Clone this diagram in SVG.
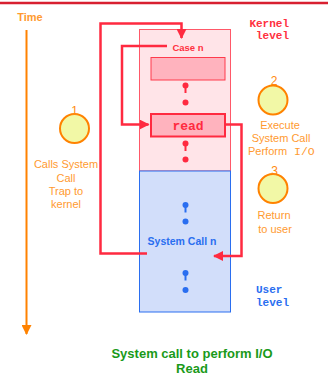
<svg xmlns="http://www.w3.org/2000/svg" width="328" height="376" viewBox="0 0 328 376">
<style>
.sans{font-family:"Liberation Sans",Arial,sans-serif}
.mono{font-family:"Liberation Mono","Courier New",monospace}
.or{fill:#ff9a30;font-size:11px}
.num{fill:#ff8a10;font-size:12px;text-anchor:middle}
.circ{fill:#f2f8a6;stroke:#ff8200;stroke-width:2}
.conn{fill:none;stroke:#ff2a40;stroke-width:2.5}
.rdot{fill:#ff2a40}
.rstem{stroke:#ff2a40;stroke-width:2}
.bdot{fill:#2a6ef0}
.bstem{stroke:#2a6ef0;stroke-width:2}
</style>
<defs>
<marker id="ah" viewBox="0 0 10 10" refX="9" refY="5" markerWidth="4" markerHeight="4" orient="auto" markerUnits="strokeWidth">
<path d="M0,0 L10,5 L0,10 z" fill="#ff2a40"/>
</marker>
<marker id="oah" viewBox="0 0 10 10" refX="9" refY="5" markerWidth="5" markerHeight="5" orient="auto" markerUnits="strokeWidth">
<path d="M0,0 L10,5 L0,10 z" fill="#ff8200"/>
</marker>
</defs>
<rect x="0" y="0" width="328" height="376" fill="#ffffff"/>
<line x1="0" y1="3" x2="328" y2="3" stroke="#d82030" stroke-width="2.5"/>

<g id="time">
<text x="30" y="20.5" class="sans" font-size="11" font-weight="bold" fill="#ff9a30" text-anchor="middle">Time</text>
<line x1="26.5" y1="30" x2="26.5" y2="334" stroke="#ff8200" stroke-width="2" marker-end="url(#oah)"/>
</g>

<g id="kernel">
<rect x="139.5" y="29.5" width="91" height="141.5" fill="#ffe4e8" stroke="#ff5868" stroke-width="1"/>
<text x="289" y="26.5" class="mono" font-size="11" font-weight="bold" fill="#ff3040" text-anchor="end">Kernel</text>
<text x="289" y="39" class="mono" font-size="11" font-weight="bold" fill="#ff3040" text-anchor="end">level</text>
</g>

<g id="user">
<rect x="139.5" y="171" width="91" height="141" fill="#d2defa" stroke="#2a6ef0" stroke-width="1"/>
<text x="256" y="292.5" class="mono" font-size="11" font-weight="bold" fill="#2a6ef0">User</text>
<text x="256" y="305.5" class="mono" font-size="11" font-weight="bold" fill="#2a6ef0">level</text>
</g>

<g id="case-n">
<text x="188" y="51" class="sans" font-size="9.5" font-weight="bold" fill="#ff3040" text-anchor="middle">Case n</text>
<rect x="151" y="57.5" width="74" height="22.5" fill="#ffb3be" stroke="#ff3a4c" stroke-width="1"/>
</g>

<g id="dots-k1">
<circle cx="185.5" cy="85.5" r="3" class="rdot"/><line x1="185.5" y1="86" x2="185.5" y2="93" class="rstem"/>
<circle cx="185.5" cy="102.5" r="3" class="rdot"/>
</g>

<g id="read">
<rect x="151" y="114" width="74" height="22.5" fill="#ffb3be" stroke="#ff2a40" stroke-width="2"/>
<text x="188" y="130" class="mono" font-size="13" font-weight="bold" fill="#ff2a40" text-anchor="middle">read</text>
</g>

<g id="dots-k2">
<circle cx="185.5" cy="143.5" r="3" class="rdot"/><line x1="185.5" y1="144" x2="185.5" y2="151" class="rstem"/>
<circle cx="185.5" cy="159.5" r="3" class="rdot"/>
</g>

<g id="dots-u1">
<circle cx="185.5" cy="205" r="3" class="bdot"/><line x1="185.5" y1="205.5" x2="185.5" y2="212.5" class="bstem"/>
<circle cx="185.5" cy="221.5" r="3" class="bdot"/>
</g>

<g id="syscall-n">
<text x="182" y="245" class="sans" font-size="10.5" font-weight="bold" fill="#2a6ef0" text-anchor="middle">System Call n</text>
</g>

<g id="dots-u2">
<circle cx="185.5" cy="273" r="3" class="bdot"/><line x1="185.5" y1="273.5" x2="185.5" y2="280.5" class="bstem"/>
<circle cx="185.5" cy="290" r="3" class="bdot"/>
</g>

<g id="step1">
<circle cx="74.5" cy="128.5" r="14.5" class="circ"/>
<text x="74.5" y="115" class="sans num">1</text>
<text class="sans or" text-anchor="middle"><tspan x="66" y="168">Calls System</tspan><tspan x="66" y="181.5">Call</tspan><tspan x="66" y="195">Trap to</tspan><tspan x="66" y="208">kernel</tspan></text>
</g>

<g id="step2">
<circle cx="273" cy="100" r="14.5" class="circ"/>
<text x="274" y="85" class="sans num">2</text>
<text class="sans or" text-anchor="middle"><tspan x="280" y="129">Execute</tspan><tspan x="281" y="142">System Call</tspan></text>
<text class="or" y="155"><tspan x="248" class="sans">Perform</tspan><tspan x="294" class="mono" font-size="11.5">I/O</tspan></text>
</g>

<g id="step3">
<circle cx="273" cy="188.5" r="14.5" class="circ"/>
<text x="274.5" y="174.5" class="sans num">3</text>
<text class="sans or" text-anchor="middle"><tspan x="274" y="219">Return</tspan><tspan x="275" y="232.5">to user</tspan></text>
</g>

<g id="connectors">
<polyline class="conn" points="147,253.5 100.5,253.5 100.5,23.5 181.5,23.5 181.5,38" marker-end="url(#ah)"/>
<polyline class="conn" points="167,46 122,46 122,124.5 148.5,124.5" marker-end="url(#ah)"/>
<polyline class="conn" points="225,124.5 241.5,124.5 241.5,256 214,256" marker-end="url(#ah)"/>
</g>

<g id="title">
<text x="192" y="358" class="sans" font-size="13" font-weight="bold" fill="#1a9a1a" text-anchor="middle">System call to perform I/O</text>
<text x="192" y="373" class="sans" font-size="13" font-weight="bold" fill="#1a9a1a" text-anchor="middle">Read</text>
</g>
</svg>
